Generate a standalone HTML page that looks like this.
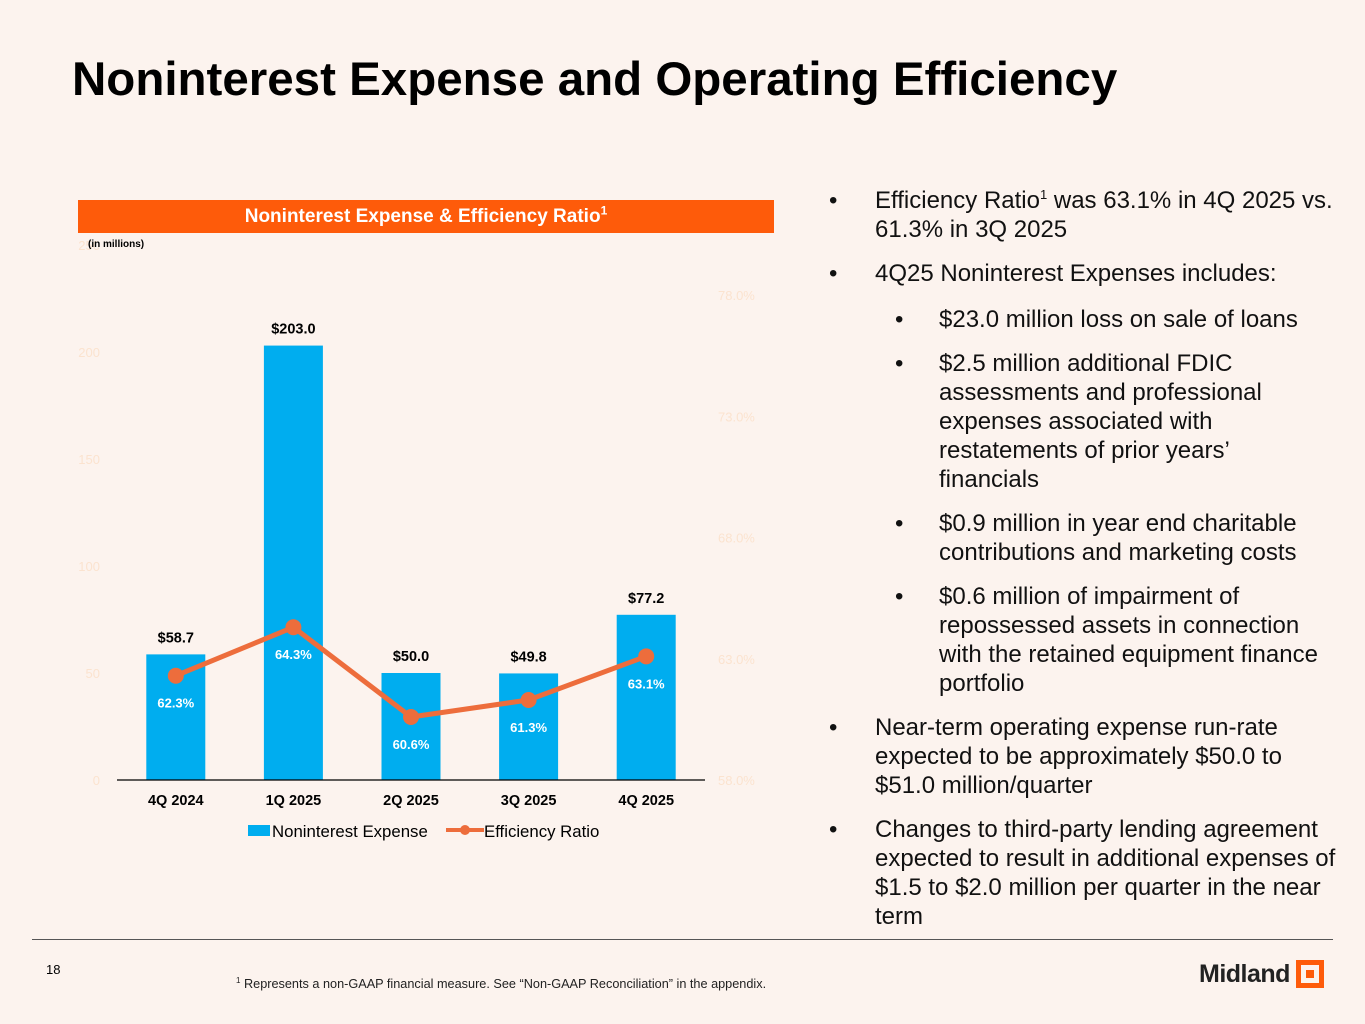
<!DOCTYPE html>
<html><head><meta charset="utf-8"><style>
body{margin:0;width:1365px;height:1024px;background:#fcf3ee;font-family:"Liberation Sans",sans-serif;position:relative;overflow:hidden}
.t{position:absolute}
h1{position:absolute;left:72px;top:52px;margin:0;font-size:47.5px;font-weight:bold;color:#000}
ul{list-style:none;margin:0;padding:0}
.b{position:absolute;font-size:24px;line-height:29px;color:#111}
.b li{position:relative;margin-bottom:15px}
.b li:before{content:"•";position:absolute;left:-46px}
.b ul.s{margin-top:17px;padding-left:64px}
.b ul.s li:before{left:-44px}
</style></head><body>
<h1>Noninterest Expense and Operating Efficiency</h1>
<div class="t" style="left:78px;top:200px;width:696px;height:33px;background:#fe5b0a;color:#fff;font-weight:bold;font-size:19px;text-align:center;line-height:33px">Noninterest Expense &amp; Efficiency Ratio<sup style="font-size:12px;line-height:0">1</sup></div>
<svg id="chart" class="t" style="left:0;top:0" width="800" height="860"></svg>
<div class="b" style="left:875px;top:186px;width:472px">
<ul>
<li>Efficiency Ratio<sup style="font-size:13px;line-height:0">1</sup> was 63.1% in 4Q 2025 vs. 61.3% in 3Q 2025</li>
<li>4Q25 Noninterest Expenses includes:
<ul class="s">
<li>$23.0 million loss on sale of loans</li>
<li>$2.5 million additional FDIC assessments and professional expenses associated with restatements of prior years’<br>financials</li>
<li>$0.9 million in year end charitable contributions and marketing costs</li>
<li>$0.6 million of impairment of repossessed assets in connection with the retained equipment finance portfolio</li>
</ul></li>
<li>Near-term operating expense run-rate expected to be approximately $50.0 to $51.0 million/quarter</li>
<li>Changes to third-party lending agreement expected to result in additional expenses of $1.5 to $2.0 million per quarter in the near term</li>
</ul></div>
<div class="t" style="left:32px;top:939px;width:1301px;height:1px;background:#555"></div>
<div class="t" style="left:46px;top:962px;font-size:13px">18</div>
<div class="t" style="left:236px;top:976px;font-size:12.7px;color:#222"><sup style="font-size:8px">1</sup> Represents a non-GAAP financial measure. See “Non-GAAP Reconciliation” in the appendix.</div>
<div class="t" style="left:1199px;top:960px;font-size:25px;font-weight:bold;color:#222;letter-spacing:-0.5px">Midland</div>
<div class="t" style="left:1296px;top:960px;width:18px;height:18px;border:5px solid #fe5b0a;background:#fcf3ee"><div style="margin:5px;width:8px;height:8px;background:#fe5b0a"></div></div>
<script>
const categories=["4Q 2024","1Q 2025","2Q 2025","3Q 2025","4Q 2025"];
const expense=[58.7,203.0,50.0,49.8,77.2];
const ratio=[62.3,64.3,60.6,61.3,63.1];
const leftTicks=[0,50,100,150,200,250];
const rightTicks=[58,63,68,73,78];
const svg=document.getElementById('chart');const NS="http://www.w3.org/2000/svg";
function el(t,a,txt){const e=document.createElementNS(NS,t);for(const k in a)e.setAttribute(k,a[k]);if(txt!==undefined)e.textContent=txt;svg.appendChild(e);return e;}
const x0=117,x1=705,base=780;
const yL=v=>base-v*2.14;
const yR=v=>base-(v-58)*24.25;
const xc=i=>x0+(x1-x0)/categories.length*(i+0.5);
leftTicks.forEach(v=>{const e=el('text',{x:100,y:yL(v)+5,'text-anchor':'end','font-size':13,fill:'#fbe3cf'},String(v));});
rightTicks.forEach(v=>{const e=el('text',{x:718,y:yR(v)+5,'font-size':13,fill:'#fbe3cf'},v.toFixed(1)+'%');});
let u=el('text',{x:88,y:247,'font-size':10,'font-weight':'bold',fill:'#000'},'(in millions)');
expense.forEach((v,i)=>{const r=el('rect',{x:xc(i)-29.5,y:yL(v),width:59,height:base-yL(v),fill:'#00adef'});
const t=el('text',{x:xc(i),y:yL(v)-12,'text-anchor':'middle','font-size':14.5,'font-weight':'bold',fill:'#000'},'$'+v.toFixed(1));
const c=el('text',{x:xc(i),y:base+25,'text-anchor':'middle','font-size':14.5,'font-weight':'bold',fill:'#000'},categories[i]);});
let ax=el('line',{x1:x0,x2:x1,y1:base,y2:base,stroke:'#000','stroke-width':1.2});
let ln=el('polyline',{points:ratio.map((v,i)=>xc(i)+','+yR(v)).join(' '),fill:'none',stroke:'#ed6d3c','stroke-width':5});
ratio.forEach((v,i)=>{const c=el('circle',{cx:xc(i),cy:yR(v),r:8,fill:'#ed6d3c'});
const t=el('text',{x:xc(i),y:yR(v)+32,'text-anchor':'middle','font-size':13,'font-weight':'bold',fill:'#fff'},v.toFixed(1)+'%');});
let l1=el('rect',{x:248,y:825,width:22,height:11,fill:'#00adef'});
let l2=el('text',{x:272,y:837,'font-size':16.8,fill:'#000'},'Noninterest Expense');
let l3=el('line',{x1:446,x2:484,y1:830,y2:830,stroke:'#ed6d3c','stroke-width':4});
let l4=el('circle',{cx:465,cy:830,r:5,fill:'#ed6d3c'});
let l5=el('text',{x:484,y:837,'font-size':16.8,fill:'#000'},'Efficiency Ratio');
</script>
</body></html>
